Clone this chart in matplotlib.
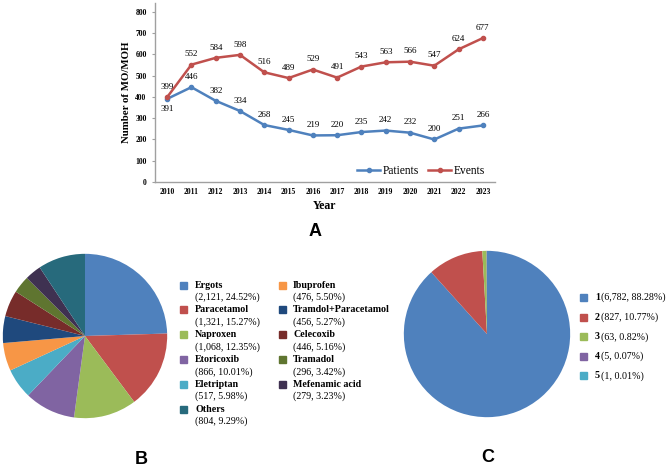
import matplotlib
matplotlib.use("Agg")
import matplotlib.pyplot as plt
from matplotlib.patches import Rectangle

years = [str(y) for y in range(2010, 2024)]
patients = [391, 446, 382, 334, 268, 245, 219, 220, 235, 242, 232, 200, 251, 266]
events = [399, 552, 584, 598, 516, 489, 529, 491, 543, 563, 566, 547, 624, 677]

drugs = ["Ergots", "Paracetamol", "Naproxen", "Etoricoxib", "Eletriptan", "Ibuprofen",
         "Tramdol+Paracetamol", "Celecoxib", "Tramadol", "Mefenamic acid", "Others"]
drug_counts = ["2,121", "1,321", "1,068", "866", "517", "476", "456", "446", "296", "279", "804"]
drug_pcts = [24.52, 15.27, 12.35, 10.01, 5.98, 5.50, 5.27, 5.16, 3.42, 3.23, 9.29]
drug_colors = ["#4F81BD", "#C0504D", "#9BBB59", "#8064A2", "#4BACC6", "#F79646",
               "#1F497D", "#772C2A", "#5F7530", "#3F3151", "#276A7C"]
legend_order = ["Ergots", "Paracetamol", "Naproxen", "Etoricoxib", "Eletriptan", "Others",
                "Ibuprofen", "Tramdol+Paracetamol", "Celecoxib", "Tramadol", "Mefenamic acid"]

groups = ["1", "2", "3", "4", "5"]
group_counts = ["6,782", "827", "63", "5", "1"]
group_pcts = [88.28, 10.77, 0.82, 0.07, 0.01]
group_colors = ["#4F81BD", "#C0504D", "#9BBB59", "#8064A2", "#4BACC6"]

W, H = 669, 468
fig = plt.figure(figsize=(W / 100, H / 100), dpi=100)
fig.patch.set_facecolor("white")
SERIF = "Liberation Serif"
SANS = "Liberation Sans"

def fx(px):
    return px / W

def fy(py):
    return 1 - py / H

# ---------- Panel A ----------
axA = fig.add_axes([fx(155), fy(182), fx(495) - fx(155), (182 - 3) / H])
x = list(range(len(years)))
axA.plot(x, patients, color="#4F81BD", lw=1.8, marker="o", ms=3, label="Patients")
axA.plot(x, events, color="#C0504D", lw=1.8, marker="o", ms=3, label="Events")
axA.set_xlim(-0.5, len(years) - 0.5)
axA.set_ylim(0, 842)
axA.set_yticks(range(0, 801, 100))
axA.set_xticks(x)
axA.set_xticklabels(years)
for sp in ["top", "right"]:
    axA.spines[sp].set_visible(False)
for sp in ["left", "bottom"]:
    axA.spines[sp].set_color("#A0A0A0")
    axA.spines[sp].set_linewidth(1.0)
axA.tick_params(axis="both", labelsize=5.5, length=0, color="#A0A0A0", pad=4)
axA.tick_params(axis="y", length=2, direction="out")
for lab in axA.get_xticklabels() + axA.get_yticklabels():
    lab.set_fontfamily(SERIF)
    lab.set_fontweight("bold")
axA.set_ylabel("Number of MO/MOH", fontfamily=SERIF, fontweight="bold", fontsize=7.8, labelpad=3)
axA.set_xlabel("Year", fontfamily=SERIF, fontweight="bold", fontsize=8.5, labelpad=3)
for i, v in enumerate(events):
    axA.annotate(str(v), (i, v), xytext=(0, 4.5), textcoords="offset points",
                 ha="center", va="bottom", fontsize=6.5, fontfamily=SERIF)
for i, v in enumerate(patients):
    off = -4.5 if i == 0 else 4.5
    axA.annotate(str(v), (i, v), xytext=(0, off), textcoords="offset points",
                 ha="center", va="top" if off < 0 else "bottom", fontsize=6.5, fontfamily=SERIF)
leg = axA.legend(loc="lower right", ncol=2, frameon=False, handlelength=2.0,
                 handletextpad=0.2, columnspacing=0.8, bbox_to_anchor=(1.0, -0.03),
                 prop={"family": SERIF, "size": 8.3})
fig.text(fx(315), fy(231), "A", fontfamily=SANS, fontweight="bold", fontsize=13,
         ha="center", va="center")

# ---------- Panel B ----------
axB = fig.add_axes([fx(2), fy(419), (168 - 2) / W, (419 - 253) / H])
axB.pie(drug_pcts, colors=drug_colors, startangle=90, counterclock=False,
        wedgeprops={"linewidth": 0})
axB.set_xlim(-1.01, 1.01)
axB.set_ylim(-1.01, 1.01)
axB.set_aspect("equal")

col_x = [(183, 195), (282, 293)]
for j, name in enumerate(legend_order):
    idx = drugs.index(name)
    col = 0 if j < 6 else 1
    row = j if j < 6 else j - 6
    mx, tx = col_x[col]
    y1 = 285 + row * 24.8
    fig.patches.append(Rectangle((fx(mx - 3.5), fy(y1 + 3.5)), 7 / W, 7 / H,
                                 transform=fig.transFigure, color=drug_colors[idx]))
    fig.text(fx(tx), fy(y1), name, fontfamily=SERIF, fontweight="bold", fontsize=7.2,
             ha="left", va="center")
    fig.text(fx(tx), fy(y1 + 12.3), f"({drug_counts[idx]}, {drug_pcts[idx]:.2f}%)",
             fontfamily=SERIF, fontsize=7.2, ha="left", va="center")
fig.text(fx(141), fy(460), "B", fontfamily=SANS, fontweight="bold", fontsize=13,
         ha="center", va="center")

# ---------- Panel C ----------
axC = fig.add_axes([fx(403), fy(418), 168 / W, 168 / H])
axC.pie(group_pcts, colors=group_colors, startangle=90, counterclock=False,
        wedgeprops={"linewidth": 0})
axC.set_xlim(-1.01, 1.01)
axC.set_ylim(-1.01, 1.01)
axC.set_aspect("equal")
for j, g in enumerate(groups):
    y1 = 297.5 + j * 19.6
    fig.patches.append(Rectangle((fx(583 - 3.5), fy(y1 + 3.5)), 7 / W, 7 / H,
                                 transform=fig.transFigure, color=group_colors[j]))
    fig.text(fx(595), fy(y1), g, fontfamily=SERIF, fontweight="bold", fontsize=7.2,
             ha="left", va="center")
    fig.text(fx(601), fy(y1), f"({group_counts[j]}, {group_pcts[j]:.2f}%)",
             fontfamily=SERIF, fontsize=7.2, ha="left", va="center")
fig.text(fx(488), fy(458), "C", fontfamily=SANS, fontweight="bold", fontsize=13,
         ha="center", va="center")

fig.savefig("out.png", dpi=100, facecolor="white")
